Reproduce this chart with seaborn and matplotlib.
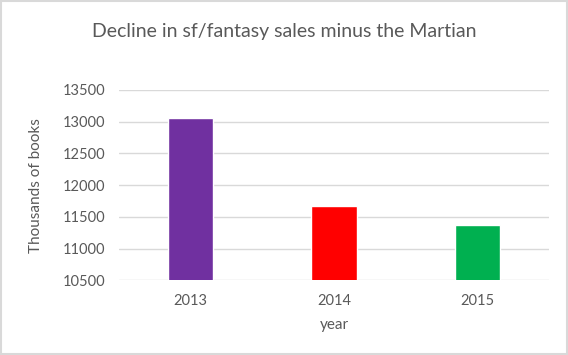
import pandas as pd
import seaborn as sns
import matplotlib.pyplot as plt
from matplotlib.patches import Rectangle

years = ["2013", "2014", "2015"]
sales = [13063, 11669, 11369]
colores = ["#7030A0", "#FF0000", "#00B050"]

df = pd.DataFrame({"year": years, "sales": sales})

sns.set_theme(style="white")
plt.rcParams['font.family'] = ['Lato', 'DejaVu Sans']

fig = plt.figure(figsize=(5.68, 3.55), dpi=100)
ax = fig.add_axes([0.2095, 0.2104, 0.757, 0.5361])

sns.barplot(data=df, x="year", y="sales", hue="year", palette=colores,
            width=0.315, legend=False, ax=ax, saturation=1)

ax.set_ylim(10500, 13500)
ax.set_xlim(-0.5, 2.5)
ax.set_yticks(range(10500, 14000, 500))
ax.yaxis.grid(True, color="#D9D9D9", linewidth=1)
ax.set_axisbelow(True)
for s in ax.spines.values():
    s.set_visible(False)
ax.tick_params(axis="both", length=0, colors="#595959", labelsize=10.5)
ax.tick_params(axis="y", pad=10)
ax.tick_params(axis="x", pad=10)

ax.set_xlabel("year", color="#595959", fontsize=11, labelpad=7)
ax.set_ylabel("Thousands of books", color="#595959", fontsize=11, labelpad=14)
fig.suptitle("Decline in sf/fantasy sales minus the Martian", x=0.5, y=0.935,
             color="#595959", fontsize=14)

fig.patches.append(Rectangle((0.001, 0.002), 0.997, 0.995, transform=fig.transFigure,
                             fill=False, edgecolor="#D9D9D9", linewidth=1.5))

fig.savefig("out.png", dpi=100)
